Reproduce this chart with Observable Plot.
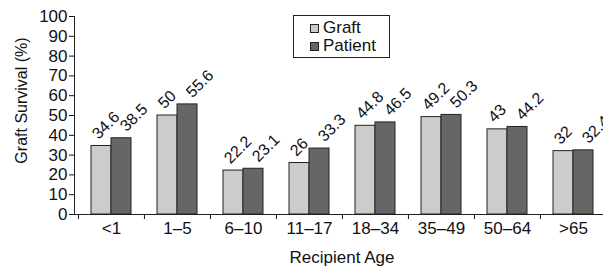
<!DOCTYPE html>
<html><head><meta charset="utf-8">
<script src="https://cdn.jsdelivr.net/npm/d3@7"></script>
<script src="https://cdn.jsdelivr.net/npm/@observablehq/plot@0.6"></script>
<style>
body{margin:0;background:#fff;}
#chart{position:relative;width:603px;height:270px;overflow:hidden;font-family:"Liberation Sans",Arial,sans-serif;}
#legend{position:absolute;left:293px;top:15px;width:95px;height:41px;border:1px solid #222;background:#fff;font-size:17px;color:#111;}
.item{position:absolute;left:16px;height:18px;display:flex;align-items:center;white-space:nowrap;}
.sw{width:7px;height:7px;border:1px solid #222;margin-right:4px;}
</style></head><body><div id="chart"><div id="legend"></div></div>
<script>
const ages = ["<1","1–5","6–10","11–17","18–34","35–49","50–64",">65"];
const graft = [34.6,50,22.2,26,44.8,49.2,43,32];
const patient = [38.5,55.6,23.1,33.3,46.5,50.3,44.2,32.4];
const seriesNames = ["Graft","Patient"];
const seriesColors = ["#cccccc","#666666"];
const yTicks = [0,10,20,30,40,50,60,70,80,90,100];
const yTitle = "Graft Survival (%)";
const xTitle = "Recipient Age";

const gData = ages.map((a,i)=>({age:a, series:seriesNames[0], value:graft[i]}));
const pData = ages.map((a,i)=>({age:a, series:seriesNames[1], value:patient[i]}));
const font = '"Liberation Sans", Arial, sans-serif';

const plot = Plot.plot({
  width:603, height:270,
  marginLeft:77, marginRight:-3, marginTop:16, marginBottom:56,
  style:{fontFamily:font, fontSize:"17px", background:"white", color:"#111", overflow:"visible"},
  x:{domain:ages, padding:0},
  y:{domain:[0,100]},
  marks:[
    Plot.barY(gData,{x:"age", y:"value", fill:seriesColors[0], stroke:"#222", strokeWidth:1, insetLeft:13, insetRight:33}),
    Plot.barY(pData,{x:"age", y:"value", fill:seriesColors[1], stroke:"#222", strokeWidth:1, insetLeft:33, insetRight:13}),
    Plot.ruleY([0],{stroke:"#222", insetLeft:-3}),
    Plot.frame({anchor:"left", dx:-3, stroke:"#222"}),
    Plot.axisY({ticks:yTicks, tickSize:5, tickPadding:2, dx:-3, label:null, fontSize:17}),
    Plot.axisX({tickSize:5, text:null, dx:-33.06, label:null}),
    Plot.axisX({tickSize:0, tickPadding:7, label:null, fontSize:17}),
    Plot.text(gData,{x:"age", y:"value", text:d=>String(d.value), rotate:-45, textAnchor:"start", lineAnchor:"bottom", dx:-13, dy:-6, fontSize:16}),
    Plot.text(pData,{x:"age", y:"value", text:d=>String(d.value), rotate:-45, textAnchor:"start", lineAnchor:"bottom", dx:15, dy:-6, fontSize:16}),
    Plot.text([yTitle],{frameAnchor:"left", rotate:-90, textAnchor:"middle", lineAnchor:"middle", dx:-56, dy:-15, fontSize:16}),
    Plot.text([xTitle],{frameAnchor:"bottom", textAnchor:"middle", lineAnchor:"middle", dy:43, fontSize:17})
  ]
});
document.getElementById("chart").prepend(plot);

const legend = document.getElementById("legend");
seriesNames.forEach((name,i)=>{
  const item = document.createElement("div");
  item.className = "item";
  item.style.top = (3 + i*18) + "px";
  const sw = document.createElement("span");
  sw.className = "sw";
  sw.style.background = seriesColors[i];
  item.appendChild(sw);
  item.appendChild(document.createTextNode(name));
  legend.appendChild(item);
});
</script></body></html>
